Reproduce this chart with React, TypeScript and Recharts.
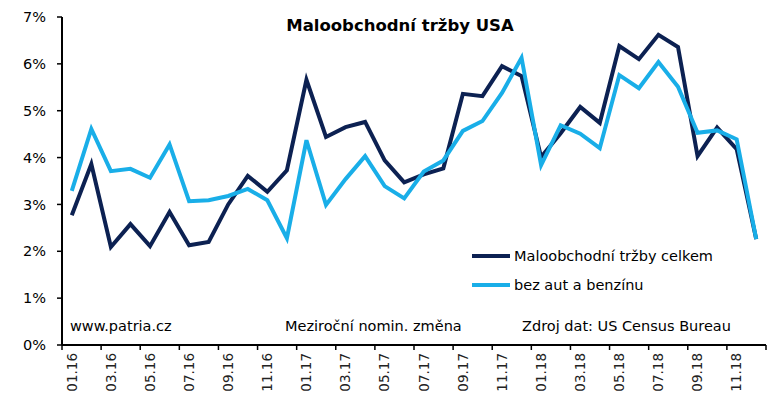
import React from "react";
import { LineChart, Line, XAxis, YAxis } from "recharts";

// months 01.16 .. 12.18
const months = [
  "01.16", "02.16", "03.16", "04.16", "05.16", "06.16", "07.16", "08.16", "09.16", "10.16", "11.16", "12.16",
  "01.17", "02.17", "03.17", "04.17", "05.17", "06.17", "07.17", "08.17", "09.17", "10.17", "11.17", "12.17",
  "01.18", "02.18", "03.18", "04.18", "05.18", "06.18", "07.18", "08.18", "09.18", "10.18", "11.18", "12.18",
];

// year-on-year change, %
const totalSales = [
  2.77, 3.86, 2.09, 2.58, 2.11, 2.84, 2.13, 2.2, 3.0, 3.61, 3.27, 3.73,
  5.66, 4.44, 4.65, 4.76, 3.94, 3.47, 3.64, 3.77, 5.36, 5.31, 5.95, 5.74,
  4.01, 4.52, 5.08, 4.74, 6.38, 6.1, 6.62, 6.36, 4.03, 4.64, 4.18, 2.26,
];
const exAutosGas = [
  3.29, 4.61, 3.71, 3.76, 3.57, 4.28, 3.07, 3.09, 3.18, 3.33, 3.09, 2.28,
  4.37, 2.99, 3.54, 4.03, 3.39, 3.13, 3.7, 3.94, 4.57, 4.78, 5.38, 6.13,
  3.84, 4.69, 4.51, 4.2, 5.76, 5.48, 6.04, 5.51, 4.53, 4.58, 4.39, 2.26,
];

const yTicks = [0, 1, 2, 3, 4, 5, 6, 7];

const TOTAL_NAME = "Maloobchodní tržby celkem";
const CORE_NAME = "bez aut a benzínu";

const DARK = "#0C2152";
const LIGHT = "#19AEE8";
const FONT = "'DejaVu Sans', Verdana, sans-serif";

const data = months.map((m, i) => ({ month: m, total: totalSales[i], core: exAutosGas[i] }));

const PLOT_W = 704;
const CAT_W = PLOT_W / months.length;

const XTick = (props: any) => {
  const { x, y, payload } = props;
  const bx = x - CAT_W / 2;
  return (
    <g>
      <line x1={bx} x2={bx} y1={y} y2={y + 5} stroke="#000" strokeWidth={1.5} />
      {payload.value === "11.18" && (
        <line x1={x + CAT_W * 1.5} x2={x + CAT_W * 1.5} y1={y} y2={y + 5} stroke="#000" strokeWidth={1.5} />
      )}
      <text
        transform={`translate(${x},${y + 8}) rotate(-90)`}
        textAnchor="end"
        dy="0.35em"
        fontSize={13.5}
        fontFamily={FONT}
        fill="#222"
      >
        {payload.value}
      </text>
    </g>
  );
};

const legendItems = [
  { name: TOTAL_NAME, color: DARK },
  { name: CORE_NAME, color: LIGHT },
];

export default function App() {
  return (
    <div style={{ position: "absolute", left: 0, top: 0, width: 782, height: 408, background: "#fff" }}>
      <LineChart width={782} height={408} data={data} margin={{ top: 17, right: 16, bottom: 0, left: 0 }}>
        <XAxis
          dataKey="month"
          interval={1}
          padding={{ left: CAT_W / 2, right: CAT_W / 2 }}
          height={63}
          tickSize={0}
          tickMargin={0}
          tickLine={false}
          axisLine={{ stroke: "#000", strokeWidth: 2 }}
          tick={<XTick />}
        />
        <YAxis
          domain={[0, 7]}
          ticks={yTicks}
          width={62}
          tickSize={5}
          tickMargin={11}
          tickFormatter={(v: number) => `${v}%`}
          tick={{ fill: "#000", fontSize: 14.5, fontFamily: FONT }}
          tickLine={{ stroke: "#000", strokeWidth: 1.5 }}
          axisLine={{ stroke: "#000", strokeWidth: 2 }}
        />
        <Line
          name={TOTAL_NAME}
          dataKey="total"
          type="linear"
          stroke={DARK}
          strokeWidth={4}
          dot={false}
          isAnimationActive={false}
        />
        <Line
          name={CORE_NAME}
          dataKey="core"
          type="linear"
          stroke={LIGHT}
          strokeWidth={4}
          dot={false}
          isAnimationActive={false}
        />
      </LineChart>
      <svg
        width={782}
        height={408}
        style={{ position: "absolute", left: 0, top: 0, pointerEvents: "none" }}
        fontFamily={FONT}
      >
        <text x={400} y={31} textAnchor="middle" fontSize={16.5} fontWeight="bold" fill="#000">
          Maloobchodní tržby USA
        </text>
        {legendItems.map((it, i) => (
          <g key={it.name} transform={`translate(472,${256 + i * 29})`}>
            <line x1={0} x2={38} y1={0} y2={0} stroke={it.color} strokeWidth={4} />
            <text x={42} y={0} dy="0.35em" fontSize={14.5} fill="#000">
              {it.name}
            </text>
          </g>
        ))}
        <text x={70} y={331} fontSize={14.5} fill="#000">www.patria.cz</text>
        <text x={285} y={331} fontSize={14.5} fill="#000">Meziroční nomin. změna</text>
        <text x={522} y={331} fontSize={14.5} fill="#000">Zdroj dat: US Census Bureau</text>
      </svg>
    </div>
  );
}
